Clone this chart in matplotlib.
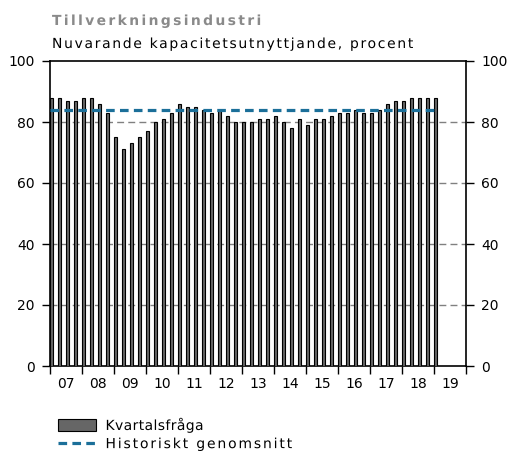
import matplotlib
matplotlib.use("Agg")
import matplotlib.pyplot as plt
import numpy as np
from matplotlib.patheffects import AbstractPathEffect
from matplotlib.path import Path
from matplotlib.textpath import TextPath
from matplotlib.font_manager import FontProperties

plt.rcParams['font.family'] = ['DejaVu Sans']

start_year = 2007
values = [88, 88, 87, 87, 88, 88, 86, 83, 75, 71, 73, 75, 77,
          80, 81, 83, 86, 85, 85, 84, 83, 84, 82, 80, 80, 80,
          81, 81, 82, 80, 78, 81, 79, 81, 81, 82, 83, 83, 84,
          83, 83, 84, 86, 87, 87, 88, 88, 88, 88]
hist_avg = 84
avg_span = [2007, 2019]
year_labels = ['07', '08', '09', '10', '11', '12', '13', '14', '15', '16', '17', '18', '19']
yticks = [0, 20, 40, 60, 80, 100]
title = 'Tillverkningsindustri'
subtitle = 'Nuvarande kapacitetsutnyttjande, procent'
legend_labels = ['Kvartalsfråga', 'Historiskt genomsnitt']


def contour_count(ch, prop):
    if ch.isspace():
        return 0
    try:
        p = TextPath((0, 0), ch, prop=prop)
        c = p.codes
        return 0 if c is None else int(np.sum(np.asarray(c) == Path.MOVETO))
    except Exception:
        return 0


class LetterSpacing(AbstractPathEffect):
    """Draw text with extra space between glyphs (spacing in em)."""
    def __init__(self, s, prop, spacing):
        super().__init__()
        counts = [contour_count(ch, prop) for ch in s]
        self.glyph_of_contour = np.repeat(np.arange(len(s)), counts)
        self.dx = spacing * 100.0

    def draw_path(self, renderer, gc, tpath, affine, rgbFace=None):
        v = np.array(tpath.vertices, dtype=float)
        c = tpath.codes
        if c is None or len(v) == 0:
            renderer.draw_path(gc, tpath, affine, rgbFace)
            return
        c = np.asarray(c)
        starts = np.where(c == Path.MOVETO)[0]
        if len(starts) != len(self.glyph_of_contour):
            renderer.draw_path(gc, tpath, affine, rgbFace)
            return
        cidx = np.searchsorted(starts, np.arange(len(v)), side='right') - 1
        cidx = np.clip(cidx, 0, None)
        v[:, 0] += self.glyph_of_contour[cidx] * self.dx
        renderer.draw_path(gc, Path(v, c), affine, rgbFace)


fig = plt.figure(figsize=(5.10, 4.53), dpi=100)
ax = fig.add_axes([50/510, 1-366/453, 416/510, 305/453])

x = start_year + np.arange(len(values)) / 4.0
bars = ax.bar(x, values, width=0.09, align='edge', color='#666666',
              edgecolor='black', linewidth=0.8, zorder=3)

for yv in yticks[1:-1]:
    ax.axhline(yv, color='#808080', linestyle=(0, (5, 3)), linewidth=1.0, zorder=1)

avg_line, = ax.plot(avg_span, [hist_avg, hist_avg], color='#1b6f99',
                    linestyle=(0, (2.7, 1.65)), linewidth=2.3, zorder=4)

ax.set_xlim(2007, 2020)
ax.set_ylim(0, 100)
ax.set_xticks(np.arange(2007, 2021))
ax.set_xticklabels([])
ax.set_xticks(np.arange(2007, 2020) + 0.5, minor=True)
ax.set_xticklabels(year_labels, minor=True, fontsize=10)
ax.tick_params(axis='x', which='minor', length=0, pad=8)
ax.tick_params(axis='x', which='major', length=5.5, width=1, direction='out')

ax.set_yticks(yticks)
ax.set_yticklabels([str(v) for v in yticks], fontsize=10)
ax.tick_params(axis='y', which='both', left=True, right=True, labelleft=True,
               labelright=True, length=6, width=1, direction='out', pad=5)

for sp in ax.spines.values():
    sp.set_linewidth(1.2)
    sp.set_color('black')

tprop = FontProperties(family='DejaVu Sans', size=10, weight='bold')
t1 = fig.text(52/510, 1-25/453, title, fontproperties=tprop,
              color='#8a8a8a', va='baseline', ha='left')
t1.set_path_effects([LetterSpacing(title, tprop, 0.17)])

sprop = FontProperties(family='DejaVu Sans', size=10)
t2 = fig.text(52/510, 1-48/453, subtitle, fontproperties=sprop,
              color='black', va='baseline', ha='left')
t2.set_path_effects([LetterSpacing(subtitle, sprop, 0.122)])

leg = fig.legend(handles=[bars, avg_line], labels=legend_labels,
                 loc='upper left', bbox_to_anchor=(58/510, 1-417/453), frameon=False,
                 fontsize=10, handlelength=2.7, handleheight=1.0, handletextpad=0.72,
                 labelspacing=0.3, borderaxespad=0, borderpad=0)
lprop = FontProperties(family='DejaVu Sans', size=10)
for txt, sp_em in zip(leg.get_texts(), [0.03, 0.135]):
    txt.set_path_effects([LetterSpacing(txt.get_text(), lprop, sp_em)])

fig.savefig('out.png', dpi=100)
